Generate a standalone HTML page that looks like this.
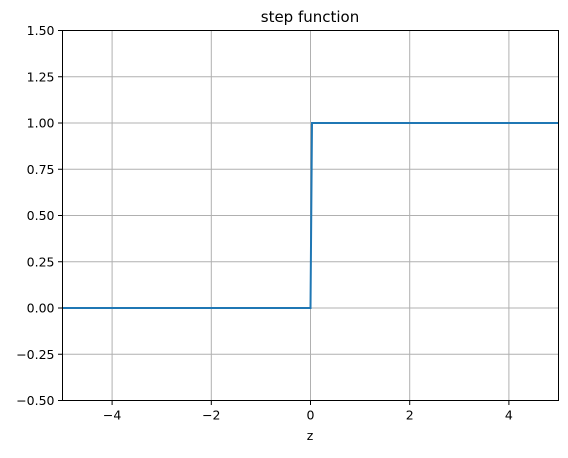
<!DOCTYPE html>
<html><head><meta charset="utf-8"><style>
body{margin:0;background:#fff;}
svg text{font-family:"DejaVu Sans","Liberation Sans",sans-serif;font-size:12.5px;fill:#000;}
</style></head><body>
<svg id="chart" width="568" height="453" xmlns="http://www.w3.org/2000/svg">
<g id="grid"></g>
<g id="series"></g>
<rect x="62.5" y="30.5" width="496" height="370" fill="none" stroke="#000" stroke-width="1"/>
<g id="ticks"></g>
<text x="310" y="22" text-anchor="middle" style="font-size:15px">step function</text>
<text x="310" y="440" text-anchor="middle">z</text>
</svg>
<script>
const xTicks=[-4,-2,0,2,4];
const xTickLabels=["−4","−2","0","2","4"];
const yTicks=[-0.5,-0.25,0,0.25,0.5,0.75,1,1.25,1.5];
const yTickLabels=["−0.50","−0.25","0.00","0.25","0.50","0.75","1.00","1.25","1.50"];
const xs=[-5,0,0.03,5];
const ys=[0,0,1,1];
const L=62.5,R=558.5,T=30.5,B=400.5;
const sx=v=>L+(v+5)/10*(R-L);
const sy=v=>B-(v+0.5)/2*(B-T);
const NS="http://www.w3.org/2000/svg";
const grid=document.getElementById('grid'),ticks=document.getElementById('ticks'),series=document.getElementById('series');
function mk(tag,attrs,parent){const e=document.createElementNS(NS,tag);for(const k in attrs)e.setAttribute(k,attrs[k]);parent.appendChild(e);return e;}
xTicks.forEach((v,i)=>{const x=sx(v);
 const g=mk('line',{x1:x,x2:x,y1:T,y2:B,stroke:'#b0b0b0','stroke-width':1},grid);
 
 
 const t=mk('line',{x1:x,x2:x,y1:B,y2:B+4.5,stroke:'#000','stroke-width':1},ticks);
 
 
 const l=mk('text',{x:x,y:B+19,'text-anchor':'middle'},ticks);l.textContent=xTickLabels[i];
 
 
});
yTicks.forEach((v,i)=>{const y=sy(v);
 const g=mk('line',{x1:L,x2:R,y1:y,y2:y,stroke:'#b0b0b0','stroke-width':1},grid);
 
 
 const t=mk('line',{x1:L-4.5,x2:L,y1:y,y2:y,stroke:'#000','stroke-width':1},ticks);
 
 
 const l=mk('text',{x:L-8,y:y+4.5,'text-anchor':'end'},ticks);l.textContent=yTickLabels[i];
 
 
});
const p=mk('polyline',{points:xs.map((x,i)=>sx(x)+','+sy(ys[i])).join(' '),fill:'none',stroke:'#1f77b4','stroke-width':2},series);


</script>
</body></html>
